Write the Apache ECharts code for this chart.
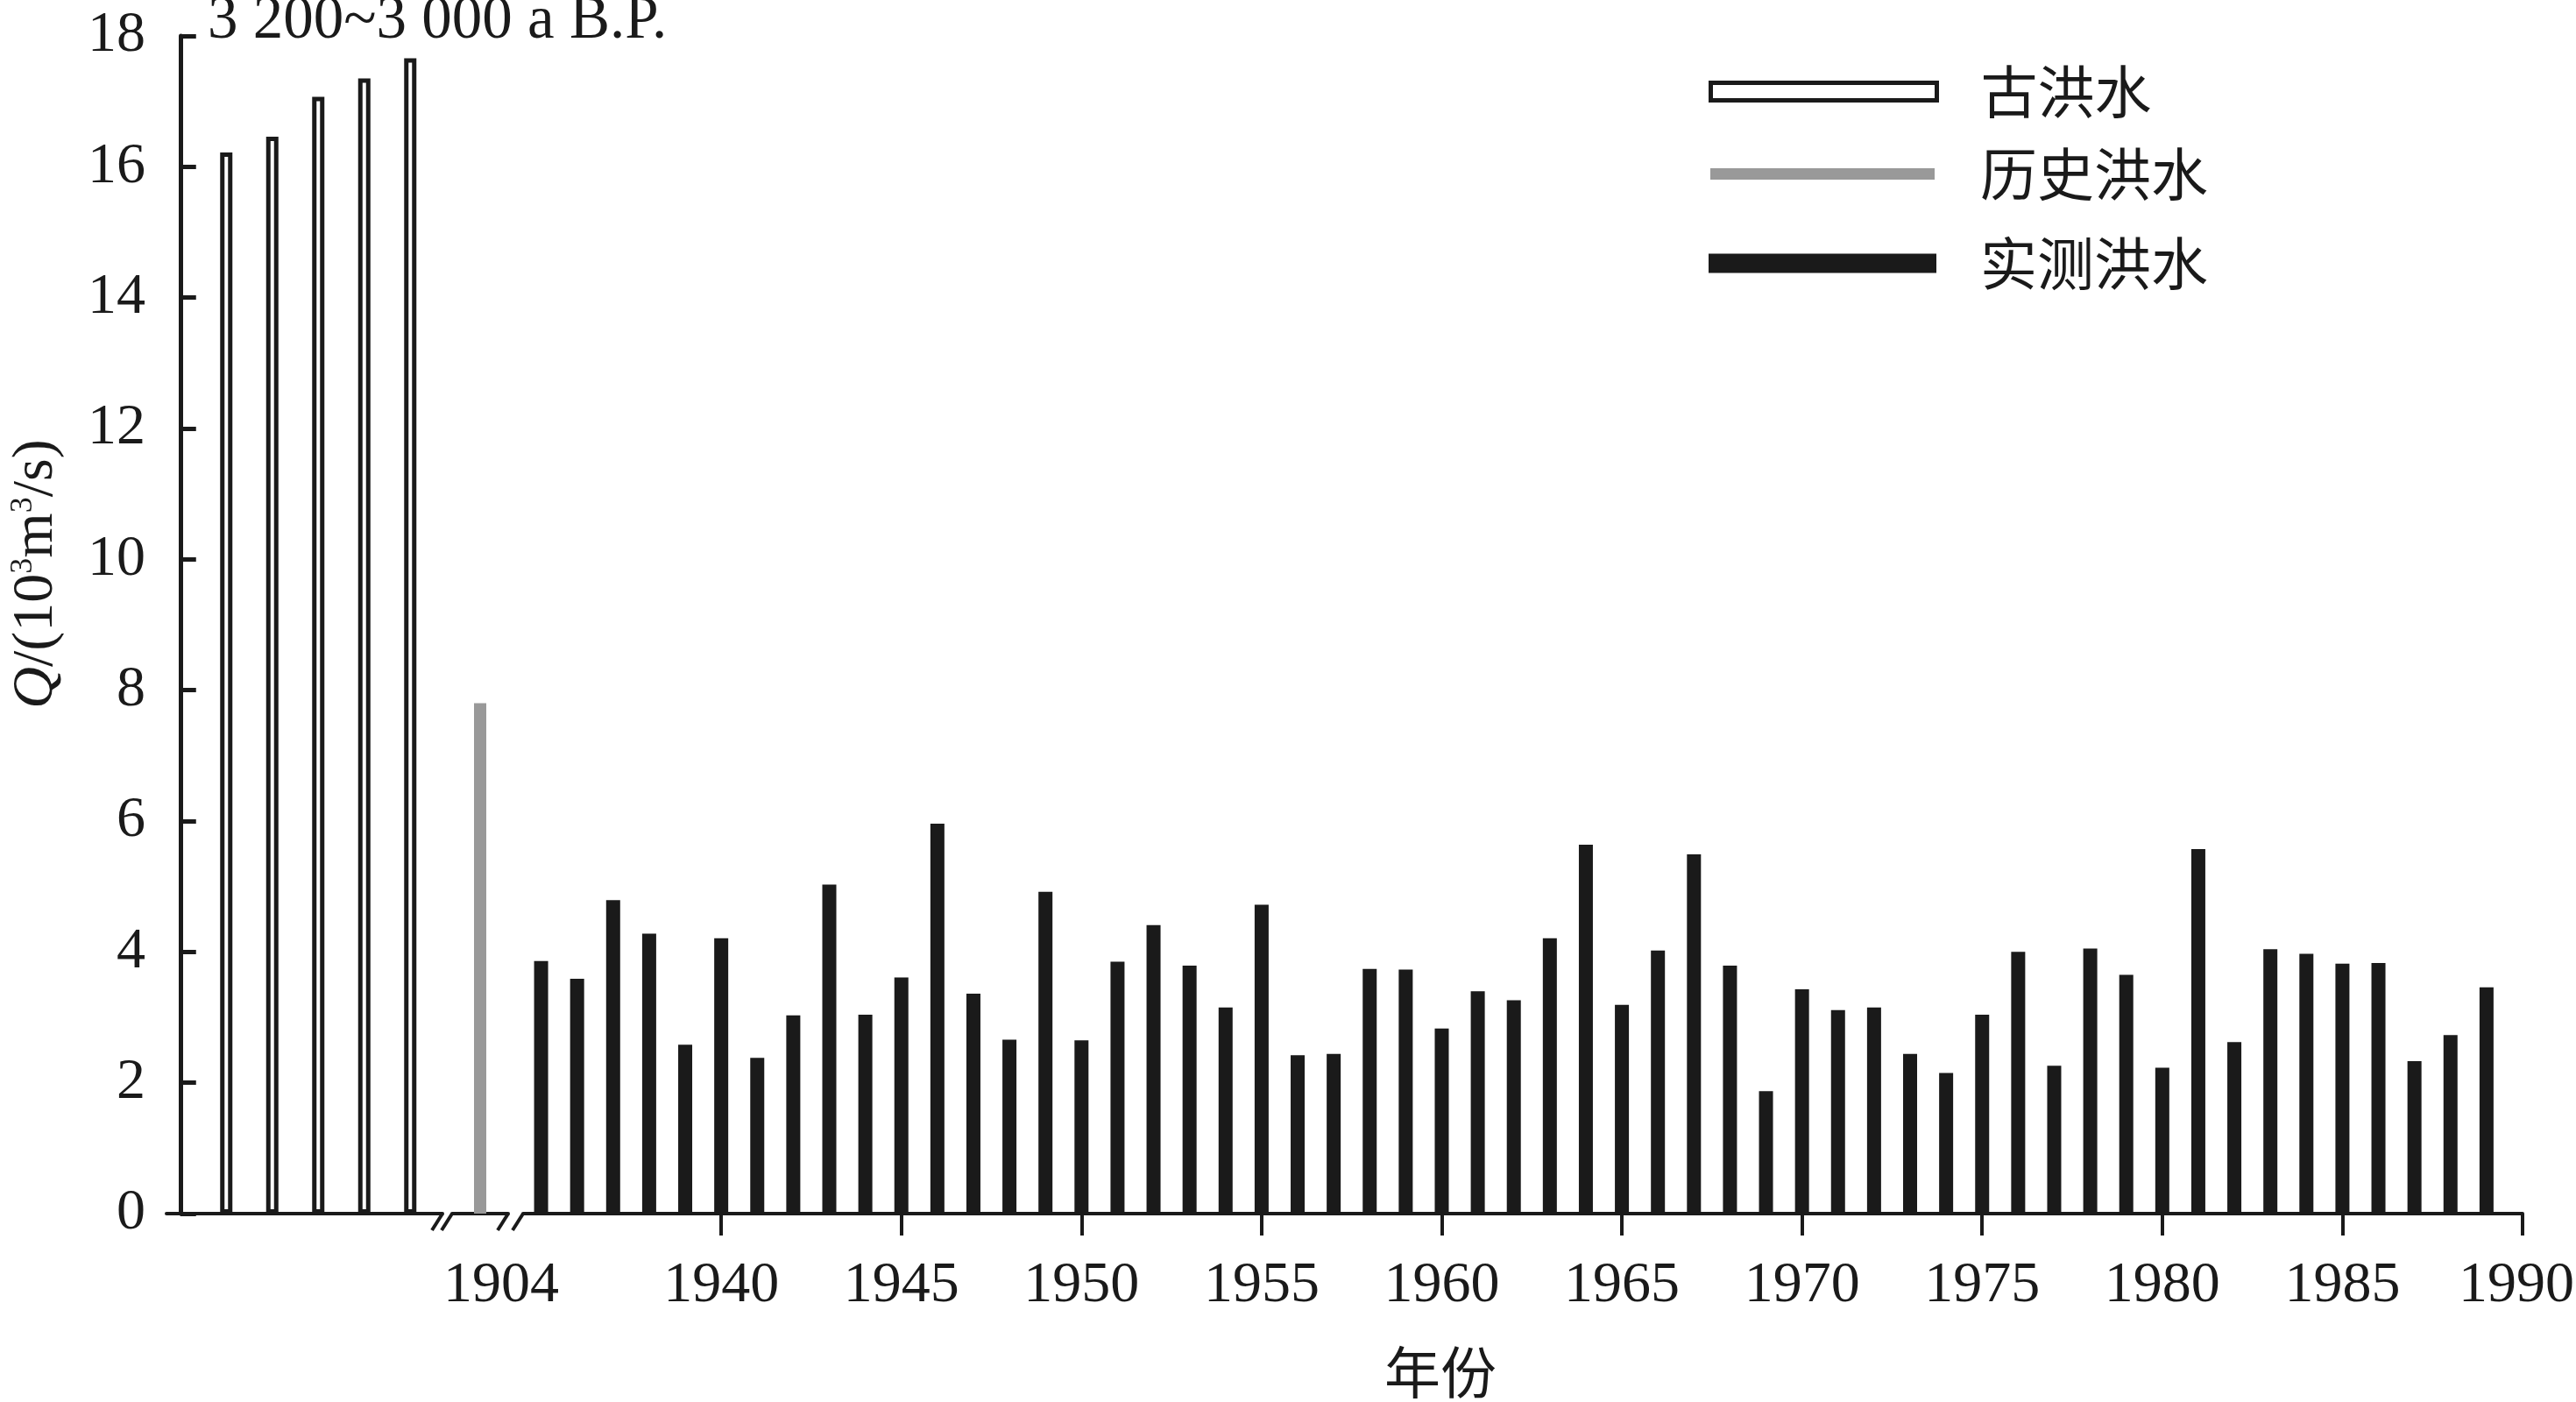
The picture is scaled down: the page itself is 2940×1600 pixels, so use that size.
<!DOCTYPE html>
<html>
<head>
<meta charset="utf-8">
<title>洪水序列</title>
<script src="https://cdn.jsdelivr.net/npm/echarts@6/dist/echarts.min.js"></script>
<style>
  html, body { margin: 0; padding: 0; background: #fff; }
  #chart { width: 2940px; height: 1600px; }
</style>
</head>
<body>
<div id="chart"></div>
<script>
// 古洪水, 3 200~3 000 a B.P. (10^3 m3/s)
const paleoSlots = [1, 2, 3, 4, 5]
const paleoQ = [16.22, 16.46, 17.07, 17.35, 17.66]

// 历史洪水
const histYears = ['1904']
const histQ = [7.8]

// 实测洪水
const gaugeYears = [
  1935, 1936, 1937, 1938, 1939, 1940, 1941, 1942, 1943, 1944, 1945, 1946, 1947, 1948,
  1949, 1950, 1951, 1952, 1953, 1954, 1955, 1956, 1957, 1958, 1959, 1960, 1961, 1962,
  1963, 1964, 1965, 1966, 1967, 1968, 1969, 1970, 1971, 1972, 1973, 1974, 1975, 1976,
  1977, 1978, 1979, 1980, 1981, 1982, 1983, 1984, 1985, 1986, 1987, 1988, 1989
]
const gaugeQ = [
  3.86, 3.59, 4.79, 4.28, 2.58, 4.21, 2.38, 3.03, 5.03, 3.04, 3.61, 5.96, 3.36, 2.66,
  4.92, 2.65, 3.85, 4.41, 3.79, 3.15, 4.72, 2.42, 2.44, 3.74, 3.73, 2.83, 3.40, 3.26,
  4.21, 5.64, 3.19, 4.02, 5.49, 3.79, 1.87, 3.43, 3.11, 3.15, 2.44, 2.15, 3.04, 4.00,
  2.26, 4.05, 3.65, 2.23, 5.57, 2.62, 4.04, 3.97, 3.82, 3.83, 2.33, 2.73, 3.46
]
const xTickYears = [1940, 1945, 1950, 1955, 1960, 1965, 1970, 1975, 1980, 1985, 1990]

const yMin = 0, yMax = 18, yStep = 2

const INK = '#1a1a1a'
const GREY = '#999999'
const SERIF = 'Liberation Serif'
const CJK = 'Noto Sans CJK SC'

// layout (px)
const TOP = 41
const BOTTOM = 215
const AXIS_Y = 1600 - BOTTOM
const G1 = { left: 190, width: 315 }
const G2 = { left: 516, width: 64 }
const G3 = { left: 597, right: 61 }

const myChart = echarts.init(document.getElementById('chart'), null, { renderer: 'canvas' })

const baseGrid = { top: TOP, bottom: BOTTOM, containLabel: false, outerBoundsMode: 'none' }

const hiddenY = (idx) => ({
  type: 'value', gridIndex: idx, min: yMin, max: yMax, interval: yStep, show: false
})

const xLine = { show: true, lineStyle: { color: INK, width: 4 } }

const breakMark = (x) => ({
  type: 'line',
  shape: { x1: x - 12, y1: AXIS_Y + 19, x2: x, y2: AXIS_Y },
  style: { stroke: INK, lineWidth: 4 },
  z: 10
})

const lastTick = xTickYears[xTickYears.length - 1]

const option = {
  animation: false,
  backgroundColor: '#fff',
  grid: [
    { ...baseGrid, left: G1.left, width: G1.width },
    { ...baseGrid, left: G2.left, width: G2.width },
    { ...baseGrid, left: G3.left, right: G3.right },
  ],
  xAxis: [
    {
      type: 'value', gridIndex: 0, min: -0.3, max: 5.7,
      axisLine: xLine, axisTick: { show: false }, axisLabel: { show: false }, splitLine: { show: false }
    },
    {
      type: 'category', gridIndex: 1, data: histYears, boundaryGap: true,
      axisLine: xLine, axisTick: { show: false }, splitLine: { show: false },
      axisLabel: {
        margin: 50, color: INK, fontFamily: SERIF, fontSize: 66,
        padding: [0, 0, 0, 48]
      }
    },
    {
      type: 'value', gridIndex: 2, min: 1934.5, max: 1990,
      axisLine: xLine, splitLine: { show: false },
      axisTick: {
        show: true, customValues: xTickYears, length: 25,
        lineStyle: { color: INK, width: 4 }
      },
      axisLabel: {
        show: true, customValues: xTickYears, margin: 50,
        color: INK, fontFamily: SERIF, fontSize: 66,
        // the last label is nudged left so it stays inside the picture
        formatter: (v) => (v === lastTick ? '{last|' + v + '}' : String(v)),
        rich: {
          last: { color: INK, fontFamily: SERIF, fontSize: 66, padding: [0, 14, 0, 0] }
        }
      }
    },
  ],
  yAxis: [
    {
      type: 'value', gridIndex: 0, min: yMin, max: yMax, interval: yStep,
      axisLine: { show: true, lineStyle: { color: INK, width: 5 } },
      axisTick: { show: true, inside: true, length: 18, lineStyle: { color: INK, width: 5 } },
      axisLabel: { margin: 24, color: INK, fontFamily: SERIF, fontSize: 66 },
      splitLine: { show: false }
    },
    hiddenY(1),
    hiddenY(2),
  ],
  legend: [
    {
      data: ['古洪水'], left: 1950, top: 72, padding: 0, icon: 'rect', selectedMode: false,
      itemWidth: 258, itemHeight: 20,
      itemStyle: { color: '#fff', borderColor: INK, borderWidth: 5 },
      textStyle: { fontFamily: CJK, fontSize: 65, color: INK, padding: [0, 0, 0, 45] }
    },
    {
      data: ['历史洪水'], left: 1952, top: 166, padding: 0, icon: 'rect', selectedMode: false,
      itemWidth: 256, itemHeight: 13,
      textStyle: { fontFamily: CJK, fontSize: 65, color: INK, padding: [0, 0, 0, 47] }
    },
    {
      data: ['实测洪水'], left: 1950, top: 268, padding: 0, icon: 'rect', selectedMode: false,
      itemWidth: 260, itemHeight: 22,
      textStyle: { fontFamily: CJK, fontSize: 65, color: INK, padding: [0, 0, 0, 45] }
    },
  ],
  series: [
    {
      name: '古洪水', type: 'bar', xAxisIndex: 0, yAxisIndex: 0,
      barWidth: 14,
      itemStyle: { color: '#fff', borderColor: INK, borderWidth: 5 },
      data: paleoQ.map((q, i) => [paleoSlots[i], q])
    },
    {
      name: '历史洪水', type: 'bar', xAxisIndex: 1, yAxisIndex: 1,
      barWidth: 14,
      itemStyle: { color: GREY },
      data: histQ
    },
    {
      name: '实测洪水', type: 'bar', xAxisIndex: 2, yAxisIndex: 2,
      barWidth: 16,
      itemStyle: { color: INK },
      data: gaugeQ.map((q, i) => [gaugeYears[i], q])
    },
  ],
  graphic: [
    {
      type: 'text', x: 237, y: 25,
      style: {
        text: '3 200~3 000 a B.P.', fill: INK,
        font: `69px "${SERIF}"`, align: 'left', verticalAlign: 'middle'
      }
    },
    {
      type: 'text', x: 42, y: 655, rotation: Math.PI / 2,
      style: {
        text: '{q|Q}/(10{s|3}m{s|3}/s)', fill: INK,
        fontFamily: SERIF, fontSize: 66, align: 'center', verticalAlign: 'middle',
        rich: {
          q: { fontFamily: SERIF, fontSize: 66, fontStyle: 'italic', fill: INK },
          s: { fontFamily: SERIF, fontSize: 36, verticalAlign: 'top', lineHeight: 40, fill: INK }
        }
      }
    },
    {
      type: 'text', x: 1644, y: 1566,
      style: {
        text: '年份', fill: INK, font: `64px "${CJK}"`,
        align: 'center', verticalAlign: 'middle'
      }
    },
    breakMark(G1.left + G1.width),
    breakMark(G2.left),
    breakMark(G2.left + G2.width),
    breakMark(G3.left),
  ]
}

option && myChart.setOption(option)
</script>
</body>
</html>
